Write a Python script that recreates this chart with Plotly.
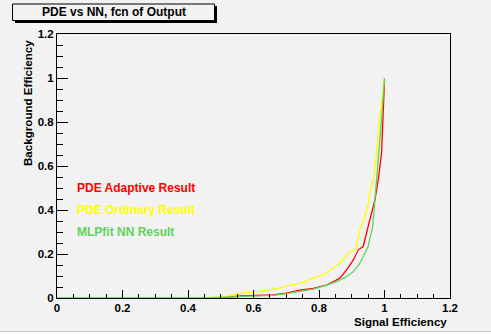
import plotly.graph_objects as go

# ---- data ----
adaptive_x = [0.445, 0.50, 0.56, 0.62, 0.66, 0.70, 0.741, 0.782, 0.823, 0.843, 0.864, 0.884,
              0.905, 0.920, 0.935, 0.950, 0.961, 0.971, 0.981, 0.991, 0.996, 0.999, 1.0]
adaptive_y = [0.0, 0.002, 0.009, 0.012, 0.014, 0.022, 0.036, 0.044, 0.059, 0.074, 0.090, 0.128,
              0.173, 0.219, 0.234, 0.325, 0.386, 0.447, 0.538, 0.660, 0.843, 0.972, 0.990]

ordinary_x = [0.45, 0.52, 0.558, 0.62, 0.68, 0.70, 0.741, 0.762, 0.772, 0.813, 0.843, 0.874,
              0.889, 0.913, 0.925, 0.935, 0.950, 0.957, 0.968, 0.976, 0.986, 1.0]
ordinary_y = [0.0, 0.008, 0.021, 0.030, 0.045, 0.055, 0.067, 0.074, 0.085, 0.105, 0.135, 0.173,
              0.204, 0.222, 0.310, 0.348, 0.424, 0.493, 0.553, 0.660, 0.827, 1.0]

mlp_x = [0.0, 0.46, 0.55, 0.62, 0.66, 0.70, 0.741, 0.782, 0.823, 0.854, 0.884, 0.905, 0.925,
         0.940, 0.950, 0.964, 0.971, 0.981, 0.991, 1.0]
mlp_y = [0.0, 0.001, 0.006, 0.010, 0.012, 0.020, 0.029, 0.040, 0.059, 0.074, 0.097, 0.120, 0.158,
         0.204, 0.234, 0.325, 0.447, 0.599, 0.812, 1.0]

series_names = ["PDE Adaptive Result", "PDE Ordinary Result", "MLPfit NN Result"]
series_colors = ["#ff0000", "#ffff00", "#5fd35a"]

x_ticks = [0, 0.2, 0.4, 0.6, 0.8, 1, 1.2]
x_tick_labels = ["0", "0.2", "0.4", "0.6", "0.8", "1", "1.2"]
y_ticks = [0, 0.2, 0.4, 0.6, 0.8, 1, 1.2]
y_tick_labels = ["0", "0.2", "0.4", "0.6", "0.8", "1", "1.2"]

title_text = "PDE vs NN, fcn of Output"
x_title = "Signal Efficiency"
y_title = "Background Efficiency"

# ---- layout geometry ----
W, H = 491, 334
L, R, T, B = 57, 41, 34, 36
PW, PH = W - L - R, H - T - B
BG = "#f2f2f2"
FONT = "Liberation Sans, Arial, Helvetica, sans-serif"


def fx(px):
    return (px - L) / PW


def fy(py):
    return (H - B - py) / PH


fig = go.Figure()
for xs, ys, name, col in zip([adaptive_x, ordinary_x, mlp_x], [adaptive_y, ordinary_y, mlp_y],
                             series_names, series_colors):
    fig.add_trace(go.Scatter(x=xs, y=ys, mode="lines", name=name,
                             line=dict(color=col, width=1.3), showlegend=False))

axis_common = dict(showgrid=False, zeroline=False, showline=True, linecolor="black", linewidth=1,
                   mirror=True, ticks="inside", tickcolor="black", tickwidth=1,
                   tickfont=dict(family=FONT, size=11.5, color="black", weight="bold"),
                   range=[0, 1.2])

fig.update_xaxes(**axis_common, tickvals=x_ticks, ticktext=x_tick_labels, ticklen=8,
                 ticklabelstandoff=-1,
                 minor=dict(dtick=0.05, ticks="inside", ticklen=4, tickcolor="black"))
fig.update_yaxes(**axis_common, tickvals=y_ticks, ticktext=y_tick_labels, ticklen=11,
                 minor=dict(dtick=0.05, ticks="inside", ticklen=6, tickcolor="black"))

annotations = []
# legend-like texts
for name, col, py in zip(series_names, series_colors, [187.5, 210, 232]):
    annotations.append(dict(x=fx(75), y=fy(py), xref="paper", yref="paper", text=name,
                            showarrow=False, xanchor="left", yanchor="middle",
                            font=dict(family=FONT, size=12, color=col, weight="bold")))
# axis titles
annotations.append(dict(x=fx(448.5), y=fy(321.5), xref="paper", yref="paper", text=x_title,
                        showarrow=False, xanchor="right", yanchor="middle",
                        font=dict(family=FONT, size=11.6, color="black", weight="bold")))
annotations.append(dict(x=fx(27), y=fy(38), xref="paper", yref="paper", text=y_title,
                        showarrow=False, xanchor="center", yanchor="top", textangle=-90,
                        font=dict(family=FONT, size=11.6, color="black", weight="bold")))
# title
annotations.append(dict(x=fx(113.5), y=fy(12.5), xref="paper", yref="paper", text=title_text,
                        showarrow=False, xanchor="center", yanchor="middle",
                        font=dict(family=FONT, size=12, color="black", weight="bold")))

shapes = [
    # bottom border strip
    dict(type="rect", xref="paper", yref="paper", x0=fx(-2), x1=fx(W + 2), y0=fy(H + 2), y1=fy(331.5),
         fillcolor="white", line=dict(color="#c8c8c8", width=1), layer="below"),
    # title box shadow
    dict(type="rect", xref="paper", yref="paper", x0=fx(15), x1=fx(217), y0=fy(23), y1=fy(6),
         fillcolor="black", line=dict(width=0)),
    # title box
    dict(type="rect", xref="paper", yref="paper", x0=fx(12.5), x1=fx(214.5), y0=fy(20.5), y1=fy(4),
         fillcolor=BG, line=dict(color="black", width=1)),
]

fig.update_layout(width=W, height=H, margin=dict(l=L, r=R, t=T, b=B, pad=0),
                  paper_bgcolor=BG, plot_bgcolor=BG, annotations=annotations, shapes=shapes,
                  font=dict(family=FONT))

fig.write_html("out.html", config={"displayModeBar": False},
               post_script="document.body.style.margin='0';")
